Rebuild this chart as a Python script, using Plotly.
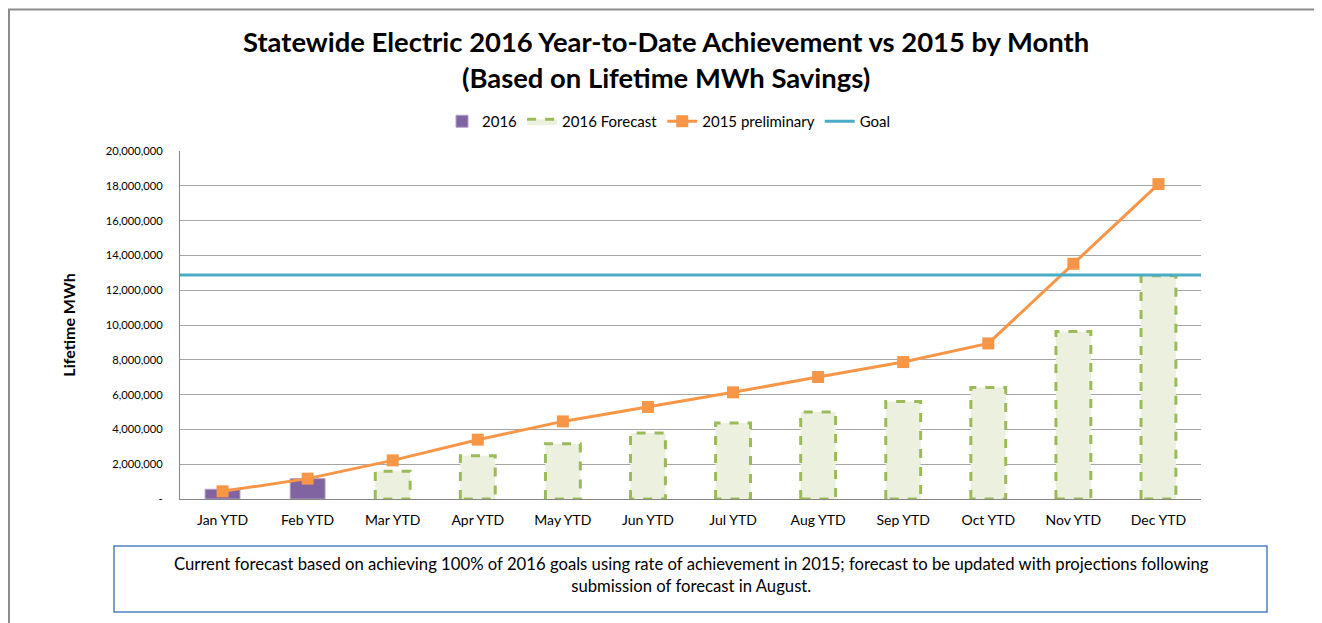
import plotly.graph_objects as go

# ---- data ----
months = ["Jan YTD", "Feb YTD", "Mar YTD", "Apr YTD", "May YTD", "Jun YTD",
          "Jul YTD", "Aug YTD", "Sep YTD", "Oct YTD", "Nov YTD", "Dec YTD"]
actual_2016 = [560000, 1170000, None, None, None, None, None, None, None, None, None, None]
forecast_2016 = [None, None, 1590000, 2490000, 3180000, 3790000, 4370000,
                 5000000, 5610000, 6410000, 9630000, 12830000]
prelim_2015 = [440000, 1170000, 2220000, 3410000, 4460000, 5290000, 6130000,
               7010000, 7870000, 8940000, 13520000, 18100000]
goal = 12870000
y_ticks = [0, 2000000, 4000000, 6000000, 8000000, 10000000, 12000000,
           14000000, 16000000, 18000000, 20000000]

FONT = "Lato"
OFF = 8  # page body margin
W, H = 1322 - OFF, 623 - OFF
L, R, T, B = 180 - OFF, 1201 - OFF, 151 - OFF, 499 - OFF  # plot area in figure pixels
BAR_W = 0.41

xs = list(range(len(months)))

fig = go.Figure()

fig.add_trace(go.Bar(
    x=xs, y=actual_2016, width=BAR_W, name="2016",
    marker=dict(color="#8064A2", line=dict(color="#B3A2C7", width=1)),
))

# forecast drawn as dashed outlined boxes (bar outlines can't be dashed)
fx, fy = [], []
for i, v in zip(xs, forecast_2016):
    if v is None:
        continue
    x0, x1 = i - BAR_W / 2, i + BAR_W / 2
    fx += [x0, x0, x1, x1, x0, None]
    fy += [0, v, v, 0, 0, None]
fig.add_trace(go.Scatter(
    x=fx, y=fy, mode="lines", fill="toself", fillcolor="#EBF1DE",
    line=dict(color="#9BBB59", width=3, dash="dash"), name="2016 Forecast",
    hoverinfo="skip",
))

fig.add_trace(go.Scatter(
    x=xs, y=prelim_2015, mode="lines+markers", name="2015 preliminary",
    line=dict(color="#F79646", width=3),
    marker=dict(symbol="square", size=12, color="#F79646"),
))

fig.add_trace(go.Scatter(
    x=[-0.5, len(months) - 0.5], y=[goal, goal], mode="lines", name="Goal",
    line=dict(color="#4BACC6", width=3),
))


# reference-image pixel -> paper coords
def px_x(p):
    return (p - OFF - L) / (R - L)


def px_y(p):
    return (B - (p - OFF)) / (B - T)


fig.update_layout(
    width=W, height=H,
    margin=dict(l=L, r=W - R, t=T, b=H - B),
    paper_bgcolor="white", plot_bgcolor="white",
    font=dict(family=FONT, color="#000000"),
    showlegend=True,
    legend=dict(
        orientation="h", x=px_x(669), xanchor="center", y=px_y(105), yanchor="top",
        font=dict(size=15), traceorder="normal",
        bgcolor="rgba(0,0,0,0)",
    ),
    barmode="overlay",
    xaxis=dict(
        range=[-0.5, len(months) - 0.5], tickvals=xs, ticktext=months,
        showgrid=False, zeroline=False, showline=True, linecolor="#868686",
        ticks="", tickfont=dict(size=14), ticklabelstandoff=8,
    ),
    yaxis=dict(
        range=[0, 20000000], tickvals=y_ticks,
        ticktext=["-"] + [f"{v:,}" for v in y_ticks[1:]],
        showgrid=True, gridcolor="#A6A6A6", gridwidth=1, zeroline=False,
        showline=True, linecolor="#868686", ticks="",
        tickfont=dict(size=11.2), ticklabelstandoff=14,
        title=dict(text="<b>Lifetime MWh</b>", font=dict(size=16), standoff=26),
    ),
    shapes=[
        dict(type="rect", xref="paper", yref="paper",
             x0=px_x(9), x1=px_x(1340), y0=px_y(640), y1=px_y(9.5),
             line=dict(color="#8C8C8C", width=2), layer="below"),
        dict(type="rect", xref="paper", yref="paper",
             x0=px_x(114), x1=px_x(1267), y0=px_y(612), y1=px_y(546),
             line=dict(color="#4F81BD", width=1.5), fillcolor="white"),
    ],
    annotations=[
        dict(xref="paper", yref="paper", x=px_x(666), y=px_y(59),
             xanchor="center", yanchor="middle", showarrow=False,
             text="<b>Statewide Electric 2016 Year-to-Date Achievement vs 2015 by Month<br>(Based on Lifetime MWh Savings)</b>",
             font=dict(size=27.4), align="center"),
        dict(xref="paper", yref="paper", x=px_x(691), y=px_y(575),
             xanchor="center", yanchor="middle", showarrow=False,
             text="Current forecast based on achieving 100% of 2016 goals using rate of achievement in 2015; forecast to be updated with projections following<br>submission of forecast in August.",
             font=dict(size=16.7), align="center"),
    ],
)

fig.write_html("out.html")
